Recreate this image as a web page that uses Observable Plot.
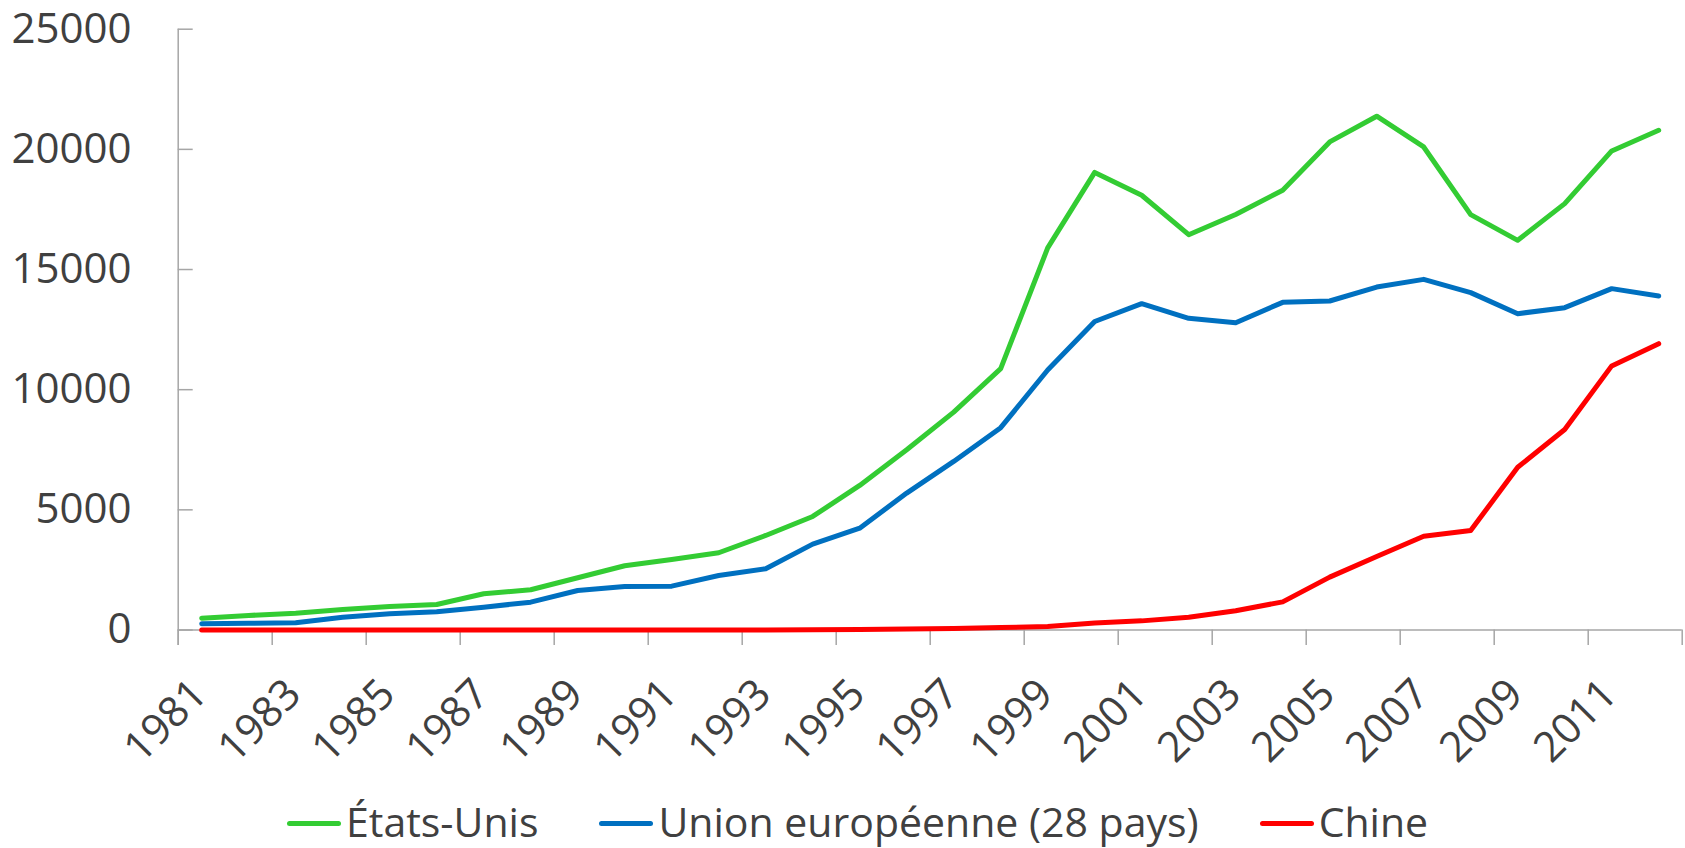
<!DOCTYPE html>
<html>
<head>
<meta charset="utf-8">
<script src="https://cdn.jsdelivr.net/npm/d3@7"></script>
<script src="https://cdn.jsdelivr.net/npm/@observablehq/plot@0.6"></script>
<style>
  html, body { margin: 0; padding: 0; background: #fff; }
  body { width: 1685px; height: 848px; overflow: hidden; font-family: "Open Sans", sans-serif; color: #404040; }
  #chart svg { display: block; }
  .legend { display: flex; align-items: center; padding-left: 287px; height: 42px; line-height: 42px; font-size: 41px; color: #404040; white-space: nowrap; }
  .legend .item { display: flex; align-items: center; margin-right: 61px; }
  .legend .sw { display: inline-block; width: 54px; height: 5px; border-radius: 3px; margin-right: 5px; margin-top: 4px; }
</style>
</head>
<body>
<div id="chart"></div>
<div class="legend" id="legend"></div>
<script>
const years = [1981, 1982, 1983, 1984, 1985, 1986, 1987, 1988, 1989, 1990, 1991, 1992, 1993, 1994, 1995, 1996,
               1997, 1998, 1999, 2000, 2001, 2002, 2003, 2004, 2005, 2006, 2007, 2008, 2009, 2010, 2011, 2012];
const etatsUnis = [490, 604, 700, 853, 978, 1062, 1507, 1673, 2173, 2672, 2935, 3214, 3934, 4725, 6015, 7500,
                   9068, 10874, 15900, 19040, 18090, 16450, 17290, 18300, 20310, 21380, 20100, 17285, 16215, 17743, 19934, 20795];
const unionEuropeenne = [258, 280, 300, 533, 674, 758, 950, 1158, 1645, 1811, 1824, 2269, 2548, 3574, 4238, 5696,
                         7015, 8418, 10820, 12836, 13579, 12968, 12788, 13634, 13690, 14270, 14590, 14038, 13163, 13413, 14204, 13897];
const chine = [0, 0, 0, 0, 0, 0, 0, 0, 0, 0, 0, 0, 5, 10, 20, 40,
               60, 100, 150, 290, 380, 533, 800, 1170, 2200, 3060, 3900, 4140, 6770, 8340, 10990, 11915];
const seriesNames = ["États-Unis", "Union européenne (28 pays)", "Chine"];
const seriesColors = ["#33CC33", "#0070C0", "#FF0000"];
const yTicks = [0, 5000, 10000, 15000, 20000, 25000];
const xTickLabels = [1981, 1983, 1985, 1987, 1989, 1991, 1993, 1995, 1997, 1999, 2001, 2003, 2005, 2007, 2009, 2011];

const seriesValues = [etatsUnis, unionEuropeenne, chine];
const rows = [];
seriesValues.forEach((vals, s) => vals.forEach((v, i) => rows.push({serie: seriesNames[s], year: years[i], value: v})));

// category band edges (every 2 categories)
const bandStart = years[0] - 0.5, bandEnd = years[years.length - 1] + 0.5;
const tickEdges = years.filter((y, i) => i % 2 === 0).map(y => y - 0.5).concat([bandEnd]);

const gray = "#a6a6a6";
const width = 1685, height = 800;
const mL = 177.7, mR = 3.3, mT = 28.7, mB = 170.5;

const chart = Plot.plot({
  width, height,
  marginLeft: mL, marginRight: mR, marginTop: mT, marginBottom: mB,
  style: {fontFamily: "Open Sans", fontSize: "42px", color: "#404040", background: "#fff"},
  x: {type: "linear", domain: [bandStart, bandEnd], axis: null},
  y: {domain: [0, 25000], axis: null},
  color: {domain: seriesNames, range: seriesColors},
  marks: [
    // y axis labels
    Plot.axisY(yTicks, {tickSize: 0, tickPadding: 46.7, tickFormat: d3.format("d"), fontSize: 42, fill: "#404040", anchor: "left", label: null}),
    // inside y ticks
    Plot.tickY(yTicks, {y: d => d, stroke: gray, strokeWidth: 1.5, insetRight: (width - mL - mR) - 15}),
    // x axis baseline
    Plot.ruleY([0], {stroke: gray, strokeWidth: 1.5}),
    // y axis line (extends below baseline)
    Plot.ruleX([bandStart], {stroke: gray, strokeWidth: 1.5, insetBottom: -15.5}),
    // x tick marks at band edges
    Plot.tickX(tickEdges, {x: d => d, stroke: gray, strokeWidth: 1.5, insetTop: (height - mT - mB), insetBottom: -15.5}),
    // rotated year labels
    Plot.text(xTickLabels, {x: d => d, text: d => String(d), frameAnchor: "bottom", rotate: -45, textAnchor: "end", lineAnchor: "middle",
      dx: -2, dy: 57, fontSize: 42, fill: "#404040"}),
    // series lines
    Plot.line(rows, {x: "year", y: "value", z: "serie", stroke: "serie", strokeWidth: 5,
      strokeLinecap: "round", strokeLinejoin: "round"})
  ]
});
document.getElementById("chart").appendChild(chart);

const legend = document.getElementById("legend");
seriesNames.forEach((name, i) => {
  const item = document.createElement("div");
  item.className = "item";
  const sw = document.createElement("span");
  sw.className = "sw";
  sw.style.background = seriesColors[i];
  const t = document.createElement("span");
  t.textContent = name;
  item.appendChild(sw);
  item.appendChild(t);
  legend.appendChild(item);
});
</script>
</body>
</html>
